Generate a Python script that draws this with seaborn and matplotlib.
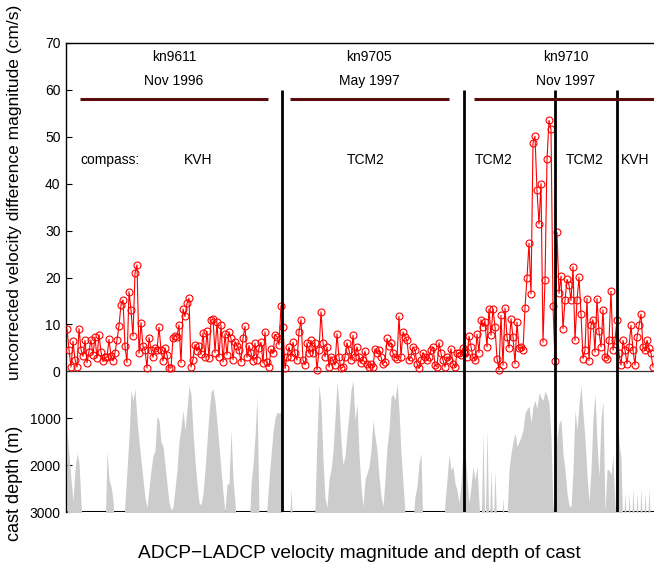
import numpy as np
import pandas as pd
import matplotlib
matplotlib.use('Agg')
import matplotlib.pyplot as plt
import seaborn as sns

# ---------------- data ----------------
cruise_names = ['kn9611', 'kn9705', 'kn9710']
cruise_dates = ['Nov 1996', 'May 1997', 'Nov 1997']

# uncorrected ADCP-LADCP velocity difference magnitude (cm/s), one value per cast
vel_kn9611 = [9.1, 4.6, 0.9, 6.4, 2.5, 0.9, 9.1, 4.6, 3.2, 6.6,
              1.8, 4.2, 6.7, 3.5, 7.3, 2.8, 7.8, 4.1, 2.1, 3.0,
              3.0, 6.8, 3.3, 2.2, 4.0, 6.7, 9.7, 14.2, 15.2, 5.3,
              1.9, 17.0, 13.1, 7.5, 20.9, 22.7, 3.8, 10.4, 5.3, 4.6,
              0.7, 7.2, 4.6, 3.0, 5.0, 4.5, 9.4, 4.6, 2.2, 5.0,
              3.5, 0.7, 0.7, 7.1, 7.6, 7.4, 9.9, 1.8, 13.3, 11.7,
              14.5, 15.6, 0.9, 2.5, 5.7, 4.3, 5.3, 3.6, 8.2, 3.0,
              8.5, 2.8, 10.9, 11.2, 4.0, 10.5, 3.0, 9.8, 2.0, 8.0,
              3.5, 8.4, 7.0, 2.5, 6.3, 5.5, 4.6, 2.0, 7.0, 9.6,
              3.0, 5.5, 4.0, 2.3, 6.0, 2.5, 5.0, 6.2, 1.8, 8.4,
              2.0, 1.0, 4.7, 3.8, 7.8, 7.4, 5.7, 14.0]
vel_kn9705 = [9.5, 0.6, 3.1, 5.2, 3.1, 6.2, 3.8, 2.4, 8.4, 11.0,
              2.4, 1.4, 6.1, 3.8, 6.6, 3.8, 6.1, 0.3, 4.5, 12.7,
              6.1, 3.1, 5.2, 0.9, 3.1, 2.4, 1.3, 8.0, 3.0, 0.6,
              0.9, 3.1, 6.1, 4.5, 2.4, 7.7, 3.1, 5.2, 3.1, 1.8,
              2.4, 4.3, 1.6, 0.9, 1.6, 0.9, 4.8, 3.8, 4.5, 3.1,
              1.6, 2.0, 7.0, 5.5, 6.1, 3.8, 3.1, 2.6, 11.7, 3.1,
              8.4, 7.3, 6.6, 2.4, 3.1, 5.2, 4.5, 1.6, 0.6, 2.4,
              4.0, 3.1, 2.4, 3.1, 4.5, 5.2, 1.3, 0.9, 6.1, 3.8,
              2.4, 0.9, 3.1, 2.4, 4.8, 1.6, 0.9, 3.8, 4.0, 3.5, 5.0]
vel_kn9710 = [3.8, 3.1, 7.5, 5.2, 3.0, 2.4, 7.9, 4.0, 11.0, 9.5,
              10.5, 5.2, 13.3, 7.7, 13.3, 9.5, 2.7, 0.3, 11.9, 1.3,
              13.5, 7.3, 5.0, 11.2, 7.3, 1.6, 10.5, 4.9, 5.2, 4.5,
              13.6, 20.0, 27.3, 16.5, 48.7, 50.1, 38.6, 31.4, 40.0, 6.2,
              19.4, 45.2, 53.5, 51.6, 14.0, 2.3, 29.6, 16.6, 20.3, 9.1,
              15.1, 19.6, 18.4, 15.1, 22.3, 6.6, 15.1, 20.1, 12.3, 2.7,
              4.5, 15.5, 2.3, 9.8, 11.0, 4.1, 15.5, 8.5, 5.2, 13.1,
              3.1, 2.7, 6.6, 17.1, 4.5, 6.6, 11.0, 3.8, 1.3, 6.6,
              4.5, 1.6, 5.2, 9.8, 4.5, 1.3, 7.3, 9.8, 12.2, 5.2,
              4.5, 6.6, 5.0, 3.8, 0.9]

# cast depth (m); values beyond 3000 m fall below the plotted range
depth_kn9611 = [1250, 1800, 2300, 2750, 2100, 1750, 1950, 2800, 3500, 3500,
                3500, 3500, 3500, 3500, 3500, 3500, 3500, 3500, 3500, 3500,
                1700, 2300, 2450, 2750, 3500, 3500, 3500, 3500, 3500, 2800,
                2100, 1400, 400, 620, 370, 1040, 1500, 1900, 2300, 2700,
                2900, 2500, 2100, 1800, 1700, 950, 1050, 1500, 1600, 2000,
                2400, 2800, 2950, 2900, 2500, 2100, 1500, 1200, 830, 1250,
                800, 300, 500, 1300, 1900, 2400, 2800, 2850, 2600, 2100,
                1500, 900, 450, 370, 650, 1100, 1600, 2100, 2600, 3000,
                2400, 2400, 1250, 2300, 2800, 3500, 3500, 3500, 3500, 3500,
                3500, 3500, 2400, 2000, 1400, 550, 3000, 3500, 3500, 3500,
                2900, 2300, 1800, 1300, 1000, 870, 900, 850]
depth_kn9705 = [3500, 3500, 3500, 3500, 2500, 3500, 3500, 3500, 3500, 3500,
                3500, 3500, 3500, 3500, 3500, 3500, 2900, 1400, 300, 700,
                1900, 2700, 2900, 2300, 2100, 1700, 1000, 230, 700, 1500,
                2000, 1800, 1320, 900, 400, 190, 1040, 690, 1750, 2450,
                2880, 2310, 2170, 2030, 1680, 1040, 1400, 1680, 2240, 2670,
                2880, 2310, 1610, 1250, 550, 480, 620, 260, 830, 1750,
                2390, 3000, 3500, 3500, 3500, 3200, 2670, 2450, 1960, 1750,
                3500, 3500, 3500, 3500, 3500, 3500, 3500, 3500, 3500, 3500,
                3500, 2800, 2300, 1780, 2100, 2030, 2390, 2530, 2810, 2390, 1680]
depth_kn9710 = [1680, 2310, 2810, 2450, 2030, 2310, 2030, 2810, 3500, 1300,
                3500, 1250, 3500, 2100, 3500, 2100, 3500, 3500, 3500, 2700,
                3500, 3100, 2100, 1750, 1500, 1320, 1600, 1500, 1400, 1250,
                900, 800, 750, 1100, 750, 620, 800, 450, 560, 620,
                420, 520, 700, 1400, 3000, 2100, 1400, 1100, 1040, 1750,
                2100, 2600, 2850, 2900, 2100, 830, 1250, 700, 300, 900,
                1450, 2200, 2800, 2100, 1000, 480, 1500, 2250, 1000, 650,
                3000, 2100, 2100, 2200, 1800, 3000, 400, 1500, 1850, 3500,
                2600, 3500, 2600, 3500, 2500, 3500, 2600, 3500, 2500, 3500,
                2600, 3500, 2500, 3500, 3500]

compass_labels = ['KVH', 'TCM2', 'TCM2', 'TCM2', 'KVH']
compass_change_casts = [244, 275]

depth_ticks_m = [3000, 2000, 1000]
vel_ticks = [0, 10, 20, 30, 40, 50, 60, 70]

# ---------------- assemble ----------------
vel = np.concatenate([vel_kn9611, vel_kn9705, vel_kn9710])
depth = np.concatenate([depth_kn9611, depth_kn9705, depth_kn9710])
n1, n2, n3 = len(vel_kn9611), len(vel_kn9705), len(vel_kn9710)
cast = np.arange(len(vel))
depth_scale = 100.0  # m per plotted unit
df = pd.DataFrame({'cast': cast, 'vel': vel, 'depth_plot': -depth / depth_scale})

sns.set_theme(style='white')
plt.rcParams['font.family'] = ['Liberation Sans', 'DejaVu Sans']
plt.rcParams['text.color'] = 'black'
plt.rcParams['axes.labelcolor'] = 'black'
plt.rcParams['ytick.color'] = 'black'
plt.rcParams['axes.unicode_minus'] = True

W, H = 654, 573
fig = plt.figure(figsize=(W / 100, H / 100), dpi=100)
ax = fig.add_axes([66 / W, 1 - 512 / H, 588 / W, (512 - 43) / H])

ymin, ymax = -30, 70
# bathymetry-style fill of cast depth
ax.fill_between(df['cast'], df['depth_plot'], ymin - 20, color='#cccccc', lw=0, zorder=1.5)
ax.axhline(ymin, color='black', lw=2.2, zorder=1)
ax.axhline(0, color='#333333', lw=0.9, zorder=2)

sns.lineplot(data=df, x='cast', y='vel', ax=ax, color='red', lw=0.8,
             marker='o', markersize=5, markerfacecolor='none',
             markeredgecolor='red', markeredgewidth=0.8, zorder=3,
             estimator=None, sort=False)

# cruise separators and compass-change lines
seps = [n1 - 0.5, n1 + n2 - 0.5] + compass_change_casts
ax.vlines(seps, ymin, 60, color='black', lw=2.0, zorder=4)

# cruise bars and labels
bar_spans = [(6.5, 100.5), (111.5, 191.0), (203.5, 294.0)]
name_x = [53.5, 151.0, 249.5]
for (b0, b1), nm, dt, xc in zip(bar_spans, cruise_names, cruise_dates, name_x):
    ax.plot([b0, b1], [58, 58], color='#5a0c0c', lw=2.2, solid_capstyle='butt', zorder=4)
    ax.text(xc, 67, nm, ha='center', va='center', fontsize=10, color='black')
    ax.text(xc, 62, dt, ha='center', va='center', fontsize=10, color='black')

ax.text(6.5, 45, 'compass:', ha='left', va='center', fontsize=10, color='black')
for lab, xc in zip(compass_labels, [65.5, 149.5, 213.5, 259.0, 284.0]):
    ax.text(xc, 45, lab, ha='center', va='center', fontsize=10, color='black')

ax.set_xlim(-0.5, len(vel) - 0.5)
ax.set_ylim(ymin, ymax)
yt = [-d / depth_scale for d in depth_ticks_m] + vel_ticks
ylab = [str(d) for d in depth_ticks_m] + [str(v) for v in vel_ticks]
ax.set_yticks(yt)
ax.set_yticklabels(ylab)
ax.set_xticks([])
ax.set_xlabel('')
ax.set_ylabel('')
ax.tick_params(axis='y', direction='in', length=4, width=0.8, labelsize=10,
               colors='black', left=True, pad=4)
for s in ['right', 'bottom']:
    ax.spines[s].set_visible(False)
for s in ['left', 'top']:
    ax.spines[s].set_visible(True)
    ax.spines[s].set_color('black')
    ax.spines[s].set_linewidth(1.0)

fig.text(15 / W, 1 - 192 / H, 'uncorrected velocity difference magnitude (cm/s)',
         rotation=90, ha='center', va='center', fontsize=12.5, color='black')
fig.text(15 / W, 1 - 483 / H, 'cast depth (m)',
         rotation=90, ha='center', va='center', fontsize=13, color='black')
fig.text(359 / W, 1 - 553 / H, 'ADCP\u2212LADCP velocity magnitude and depth of cast',
         ha='center', va='center', fontsize=13.8, color='black')

fig.savefig('out.png', dpi=100)
